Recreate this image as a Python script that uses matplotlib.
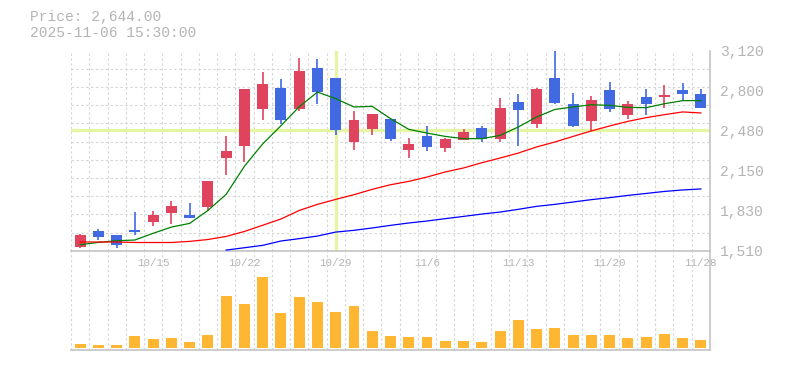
"""Daily candlestick chart with moving averages and volume panel."""

import matplotlib

matplotlib.use("Agg")
import matplotlib.pyplot as plt
import matplotlib.transforms as mtransforms
import numpy as np

# trading days shown (2025-10-08 .. 2025-11-28)
dates = [
    "10/8", "10/9", "10/10", "10/14", "10/15", "10/16", "10/17", "10/20", "10/21",
    "10/22", "10/23", "10/24", "10/27", "10/28", "10/29", "10/30", "10/31", "11/4",
    "11/5", "11/6", "11/7", "11/10", "11/11", "11/12", "11/13", "11/14", "11/17",
    "11/18", "11/19", "11/20", "11/21", "11/25", "11/26", "11/27", "11/28",
]
opens = [
    1542, 1671, 1639, 1679, 1738, 1810, 1795, 1860, 2258, 2349, 2647, 2822, 2653,
    2983, 2902, 2382, 2486, 2573, 2318, 2436, 2334, 2403, 2500, 2406, 2709, 2532,
    2902, 2693, 2551, 2806, 2599, 2750, 2744, 2806, 2774,
]
highs = [
    1647, 1681, 1639, 1818, 1826, 1912, 1890, 2074, 2430, 2809, 2945, 2893, 3064,
    3056, 2902, 2637, 2613, 2573, 2420, 2516, 2420, 2492, 2514, 2742, 2774, 2822,
    3136, 2782, 2758, 2870, 2718, 2814, 2846, 2862, 2814,
]
lows = [
    1534, 1593, 1534, 1633, 1706, 1727, 1770, 1830, 2116, 2224, 2565, 2532, 2632,
    2688, 2438, 2318, 2438, 2390, 2253, 2310, 2301, 2403, 2382, 2382, 2349, 2500,
    2693, 2508, 2470, 2623, 2567, 2605, 2661, 2726, 2661,
]
closes = [
    1639, 1617, 1553, 1657, 1800, 1867, 1770, 2074, 2309, 2809, 2849, 2559, 2959,
    2785, 2478, 2559, 2613, 2406, 2371, 2342, 2412, 2468, 2406, 2661, 2639, 2814,
    2703, 2516, 2726, 2647, 2693, 2688, 2766, 2768, 2661,
]
ma5 = [
    1558, 1577, 1590, 1596, 1650, 1700, 1730, 1834, 1964, 2190, 2370, 2516, 2669,
    2787, 2734, 2667, 2672, 2573, 2487, 2457, 2430, 2412, 2412, 2438, 2506, 2586,
    2647, 2667, 2685, 2680, 2664, 2661, 2693, 2718, 2718,
]
ma25 = [
    1580, 1580, 1580, 1576, 1576, 1576, 1585, 1600, 1625, 1665, 1715, 1765, 1834,
    1883, 1923, 1961, 2004, 2041, 2068, 2103, 2144, 2176, 2218, 2256, 2296, 2345,
    2385, 2430, 2474, 2514, 2551, 2581, 2605, 2627, 2619,
]
ma75 = [
    np.nan, np.nan, np.nan, np.nan, np.nan, np.nan, np.nan, np.nan, 1515, 1534,
    1553, 1588, 1607, 1628, 1660, 1674, 1693, 1714, 1733, 1749, 1768, 1786, 1805,
    1821, 1843, 1867, 1883, 1902, 1921, 1937, 1955, 1971, 1987, 1999, 2007,
]
volumes = [
    1200, 900, 900, 3600, 2700, 3000, 1800, 3900, 15600, 13200, 21300, 10500, 15300,
    13800, 10800, 12600, 5100, 3600, 3300, 3300, 2100, 2100, 1800, 5100, 8400, 5700,
    6000, 3900, 3900, 3900, 3000, 3300, 4200, 3000, 2400,
]
label_dates = ["10/15", "10/22", "10/29", "11/6", "11/13", "11/20", "11/28"]
cursor_date = "10/29"
cursor_price = 2480
price_min, price_max = 1510, 3120

UP = "#e0435e"
DOWN = "#4169e1"
VOL = "#ffb733"
GRID = "#d6d6d6"
TEXT = "#b4b4b4"
SPINE = "#c4c4c4"
CURSOR = "#e4f5a4"
MONO = ["Liberation Mono", "DejaVu Sans Mono"]

x = np.arange(len(dates))

fig = plt.figure(figsize=(7.85, 3.7), dpi=100)
ax = fig.add_axes([71 / 785, 1 - 250.7 / 370, 639 / 785, 200 / 370])
axv = fig.add_axes([71 / 785, 1 - 350.3 / 370, 639 / 785, 99.6 / 370])
axv.set_facecolor("none")

for a in (ax, axv):
    a.set_xlim(-0.5, len(dates) - 0.5)
    a.set_xticks(np.arange(-0.5, len(dates), 1), minor=True)
    a.grid(True, which="minor", axis="x", color=GRID, lw=0.8, ls=(0, (2.2, 2.2)))
    a.spines["top"].set_visible(False)
    a.spines["left"].set_visible(False)
    a.spines["right"].set_color(SPINE)
    a.spines["bottom"].set_color(SPINE)
    a.spines["right"].set_linewidth(1.2)
    a.spines["bottom"].set_linewidth(1.2)
    a.tick_params(which="both", length=0)
    a.set_axisbelow(True)

# price panel
ax.set_ylim(price_min, price_max)
ax.set_yticks(np.linspace(price_min, price_max, 12), minor=True)
ax.grid(True, which="minor", axis="y", color=GRID, lw=0.8, ls=(0, (2.2, 2.2)))
major = np.linspace(price_min, price_max, 6)
ax.set_yticks(major)
ax.set_yticklabels([f"{round(v, -1):,.0f}" for v in major],
                   family=MONO, fontsize=10.5, color=TEXT)
ax.yaxis.tick_right()
ax.tick_params(axis="y", pad=7)

ax.set_xticks([dates.index(d) for d in label_dates])
ax.set_xticklabels(label_dates, family=MONO, fontsize=7.8, color=TEXT)
ax.tick_params(axis="x", pad=5)

ax.axhline(cursor_price, color=CURSOR, lw=2.4, zorder=1)
ax.axvline(dates.index(cursor_date), color=CURSOR, lw=2.4, zorder=1)

for i in x:
    color = UP if closes[i] >= opens[i] else DOWN
    ax.vlines(i, lows[i], highs[i], color=color, lw=1.2, zorder=3)
    lo, hi = sorted((opens[i], closes[i]))
    ax.bar(i, max(hi - lo, 6), bottom=lo, width=0.6, color=color, lw=0, zorder=3)

ax.plot(x, ma5, color="#008000", lw=0.9, zorder=4)
ax.plot(x, ma25, color="#ff0000", lw=0.9, zorder=4)
ax.plot(x, ma75, color="#0000ff", lw=0.9, zorder=4)

# volume panel
axv.bar(x, volumes, width=0.6, color=VOL, lw=0, zorder=3)
vmax = max(volumes)
axv.set_ylim(-0.032 * vmax, 1.37 * vmax)
axv.set_yticks([])
axv.set_xticks([])

fig.text(30 / 785, 1 - 17 / 370, "Price: 2,644.00", family=MONO, fontsize=10.5,
         color=TEXT, va="center", ha="left")
fig.text(30 / 785, 1 - 33 / 370, "2025-11-06 15:30:00", family=MONO, fontsize=10.5,
         color=TEXT, va="center", ha="left")

fig.savefig("out.png", dpi=100)
